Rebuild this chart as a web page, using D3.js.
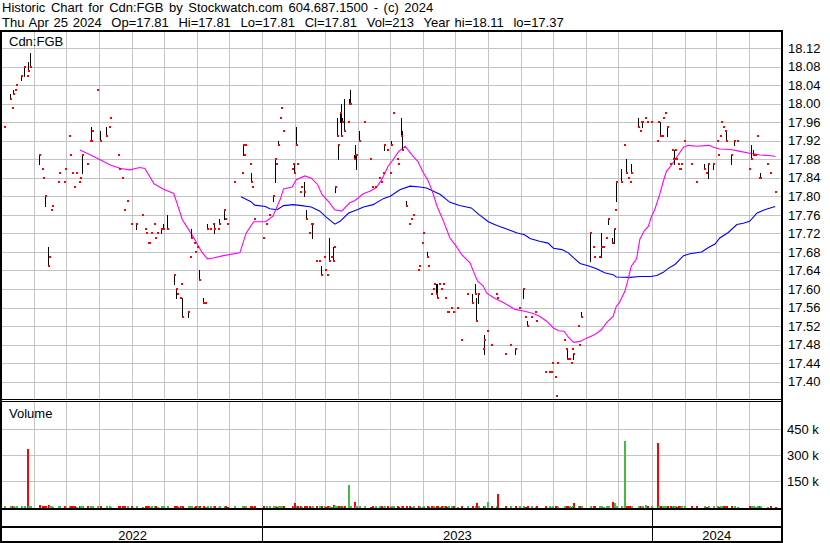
<!DOCTYPE html>
<html><head><meta charset="utf-8">
<script src="https://cdn.jsdelivr.net/npm/d3@7"></script>
<style>
html,body{margin:0;padding:0;background:#fff;}
svg{display:block;}
</style></head><body>
<svg id="chart" width="830" height="543"></svg>
<script>
// ---------------- data ----------------
const headerLines = [
  "Historic Chart for Cdn:FGB by Stockwatch.com 604.687.1500 - (c) 2024",
  "Thu Apr 25 2024  Op=17.81  Hi=17.81  Lo=17.81  Cl=17.81  Vol=213  Year hi=18.11  lo=17.37"
];
const symbolLabel = "Cdn:FGB";
const volumeLabel = "Volume";
const priceTicks = [17.40,17.44,17.48,17.52,17.56,17.60,17.64,17.68,17.72,17.76,17.80,17.84,17.88,17.92,17.96,18.00,18.04,18.08,18.12];
const volumeTicks = [150000,300000,450000];
const volumeTickLabels = ["150 k","300 k","450 k"];
const yearLabels = ["2022","2023","2024"];
const startDate = "2022-05-02"; // first day of the time axis; days below count from here

// closes: [day, close]
const closes = [
[3,17.95],[8,18.01],[10,17.99],[11,18.02],[13,18.03],[14,18.04],[19,18.06],[22,18.08],[24,18.06],[25,18.07],
[27,18.08],[36,17.89],[38,17.86],[39,17.84],[41,17.80],[44,17.65],[45,17.67],[47,17.77],[48,17.78],[53,17.83],
[54,17.85],[59,17.83],[60,17.86],[64,17.93],[65,17.89],[67,17.85],[68,17.82],[70,17.85],[73,17.83],[74,17.84],
[76,17.89],[81,17.87],[83,17.92],[84,17.92],[85,17.94],[90,18.03],[93,17.92],[98,17.93],[101,17.95],[102,17.97],
[110,17.89],[111,17.86],[113,17.84],[115,17.77],[118,17.79],[122,17.74],[127,17.74],[132,17.76],[135,17.73],[136,17.72],
[138,17.70],[139,17.70],[141,17.72],[143,17.74],[144,17.71],[146,17.72],[150,17.73],[152,17.73],[156,17.73],[162,17.63],
[164,17.60],[165,17.59],[168,17.58],[169,17.61],[170,17.54],[175,17.55],[177,17.67],[178,17.71],[181,17.70],[182,17.68],
[184,17.69],[186,17.62],[189,17.57],[191,17.57],[193,17.73],[196,17.73],[199,17.74],[200,17.73],[203,17.73],[204,17.74],
[209,17.77],[210,17.75],[212,17.74],[218,17.83],[226,17.85],[227,17.91],[228,17.89],[229,17.91],[233,17.87],[234,17.83],
[235,17.82],[237,17.75],[246,17.71],[248,17.74],[251,17.76],[255,17.80],[257,17.88],[258,17.87],[260,17.91],[262,17.97],
[263,17.99],[264,17.94],[273,17.86],[274,17.87],[275,17.85],[277,17.91],[278,17.87],[280,17.81],[281,17.82],[284,17.81],
[286,17.75],[289,17.72],[291,17.74],[292,17.74],[295,17.66],[298,17.66],[300,17.63],[303,17.67],[304,17.64],[306,17.63],
[308,17.66],[309,17.67],[311,17.66],[312,17.69],[313,17.82],[315,17.93],[316,17.91],[318,17.98],[319,17.93],[320,17.96],
[322,17.94],[325,17.96],[326,18.00],[327,18.00],[331,17.88],[332,17.89],[333,17.89],[336,17.92],[340,17.96],[346,17.88],
[348,17.82],[351,17.82],[354,17.84],[356,17.83],[358,17.85],[359,17.91],[362,17.90],[365,17.85],[366,17.91],[368,17.98],
[371,17.88],[372,17.87],[375,17.93],[376,17.90],[380,17.78],[383,17.74],[384,17.75],[386,17.76],[391,17.64],[392,17.65],
[395,17.70],[396,17.72],[399,17.67],[400,17.65],[403,17.59],[405,17.60],[406,17.61],[408,17.59],[409,17.58],[411,17.61],
[413,17.60],[414,17.61],[416,17.58],[418,17.55],[419,17.55],[422,17.56],[424,17.55],[428,17.56],[431,17.49],[437,17.59],
[442,17.57],[444,17.59],[445,17.53],[447,17.59],[452,17.47],[453,17.49],[456,17.51],[459,17.48],[464,17.59],[465,17.58],
[473,17.46],[477,17.48],[482,17.47],[486,17.56],[489,17.60],[491,17.54],[493,17.52],[497,17.54],[501,17.55],[502,17.53],
[510,17.42],[514,17.42],[516,17.42],[517,17.44],[519,17.41],[520,17.37],[521,17.44],[528,17.49],[530,17.47],[531,17.45],
[533,17.45],[534,17.44],[535,17.47],[536,17.46],[541,17.52],[542,17.48],[544,17.54],[552,17.72],[555,17.69],[556,17.67],
[561,17.67],[563,17.69],[564,17.69],[567,17.71],[569,17.75],[573,17.70],[575,17.73],[576,17.77],[577,17.83],[581,17.83],
[584,17.91],[586,17.85],[588,17.84],[590,17.83],[591,17.85],[597,17.95],[599,17.94],[600,17.96],[601,17.96],[604,17.97],
[606,17.96],[609,17.96],[615,17.92],[616,17.96],[618,17.93],[620,17.93],[621,17.97],[623,17.98],[624,17.95],[627,17.87],
[629,17.90],[630,17.88],[631,17.88],[632,17.90],[633,17.88],[635,17.87],[636,17.86],[637,17.86],[638,17.87],[640,17.92],
[647,17.87],[652,17.83],[659,17.86],[661,17.85],[663,17.87],[668,17.87],[671,17.92],[672,17.89],[674,17.93],[675,17.96],
[677,17.95],[679,17.94],[680,17.92],[684,17.89],[687,17.92],[690,17.92],[701,17.86],[703,17.88],[705,17.89],[707,17.89],
[709,17.93],[711,17.84],[712,17.84],[718,17.87],[721,17.85],[726,17.81]
];

// ranges: [day, high, low]
const ranges = [
[8,18.02,18.01],[11,18.03,18.02],[19,18.06,18.05],[22,18.08,18.06],[25,18.09,18.07],[27,18.11,18.08],[36,17.89,17.87],[41,17.80,17.78],[44,17.69,17.65],[76,17.89,17.85],
[84,17.95,17.92],[93,17.94,17.92],[98,17.95,17.93],[127,17.74,17.73],[150,17.73,17.72],[152,17.74,17.73],[156,17.76,17.73],[162,17.63,17.61],[164,17.60,17.58],[170,17.58,17.54],
[175,17.55,17.54],[178,17.73,17.71],[186,17.64,17.62],[189,17.58,17.57],[193,17.74,17.73],[200,17.74,17.72],[204,17.75,17.74],[209,17.77,17.75],[227,17.91,17.89],[234,17.85,17.83],
[255,17.80,17.79],[257,17.88,17.83],[260,17.92,17.91],[275,17.87,17.85],[277,17.95,17.91],[284,17.83,17.80],[286,17.77,17.75],[292,17.74,17.71],[300,17.65,17.63],[308,17.71,17.66],
[311,17.69,17.66],[313,17.82,17.81],[315,17.97,17.93],[316,17.91,17.88],[318,17.98,17.96],[319,18.00,17.93],[320,17.97,17.96],[322,18.01,17.94],[326,18.01,18.00],[327,18.03,18.00],
[331,17.89,17.88],[332,17.91,17.88],[333,17.89,17.86],[336,17.94,17.92],[359,17.91,17.90],[366,17.92,17.91],[375,17.97,17.93],[376,17.94,17.90],[380,17.79,17.78],[399,17.68,17.67],
[408,17.61,17.59],[409,17.61,17.58],[442,17.59,17.57],[444,17.61,17.59],[445,17.58,17.53],[447,17.59,17.57],[453,17.50,17.46],[482,17.47,17.46],[489,17.60,17.58],[493,17.53,17.52],
[531,17.47,17.45],[536,17.46,17.45],[544,17.55,17.54],[552,17.72,17.66],[563,17.72,17.67],[569,17.75,17.74],[573,17.71,17.70],[575,17.73,17.70],[577,17.83,17.79],[581,17.86,17.83],
[586,17.88,17.85],[591,17.87,17.85],[597,17.97,17.95],[601,17.96,17.95],[618,17.96,17.93],[624,17.95,17.93],[631,17.90,17.87],[659,17.87,17.86],[663,17.87,17.84],[668,17.87,17.86],
[680,17.94,17.92],[684,17.89,17.87],[687,17.92,17.91],[703,17.91,17.88],[705,17.90,17.89],[712,17.85,17.84]
];

// volumes: [day, thousands of shares]
const volumes = [
[3,8],[8,10],[10,6],[11,8],[13,5],[14,6],[19,8],[22,10],[24,334],[25,8],
[27,10],[36,17],[38,6],[39,8],[41,9],[44,12],[45,6],[47,8],[48,5],[53,6],
[54,8],[59,6],[60,5],[64,9],[65,6],[67,8],[68,6],[70,5],[73,6],[74,8],
[76,9],[81,6],[83,8],[84,10],[85,6],[90,8],[93,9],[98,8],[101,6],[102,5],
[110,6],[111,8],[113,6],[115,9],[118,6],[122,8],[127,6],[132,5],[135,9],[136,6],
[138,8],[139,5],[141,6],[143,8],[144,6],[146,5],[150,8],[152,6],[156,9],[162,8],
[164,6],[165,5],[168,6],[169,8],[170,9],[175,6],[177,8],[178,6],[181,5],[182,6],
[184,8],[186,6],[189,9],[191,5],[193,6],[196,8],[199,6],[200,8],[203,5],[204,6],
[209,8],[210,6],[212,5],[218,8],[226,6],[227,9],[228,5],[229,6],[233,8],[234,6],
[235,5],[237,8],[246,6],[248,8],[251,6],[255,9],[257,8],[258,5],[260,10],[262,6],
[263,8],[264,6],[273,8],[274,6],[275,28],[277,9],[278,6],[280,8],[281,5],[284,6],
[286,8],[289,6],[291,5],[292,8],[295,6],[298,8],[300,9],[303,6],[304,5],[306,8],
[308,6],[309,5],[311,14],[312,6],[313,8],[315,9],[316,6],[318,8],[319,6],[320,5],
[322,8],[325,130],[326,6],[327,9],[331,34],[332,8],[333,6],[336,8],[340,6],[346,5],
[348,8],[351,6],[354,8],[356,6],[358,5],[359,8],[362,6],[365,5],[366,8],[368,6],
[371,6],[372,5],[375,8],[376,6],[380,8],[383,6],[384,5],[386,6],[391,8],[392,6],
[395,5],[396,8],[399,6],[400,5],[403,8],[405,6],[406,5],[408,8],[409,6],[411,5],
[413,6],[414,8],[416,6],[418,5],[419,6],[422,8],[424,6],[428,5],[431,10],[437,8],
[442,6],[444,8],[445,28],[447,6],[452,8],[453,9],[456,34],[459,6],[464,8],[465,79],
[473,6],[477,8],[482,6],[486,8],[489,6],[491,5],[493,8],[497,6],[501,5],[502,8],
[510,6],[514,8],[516,5],[517,6],[519,8],[520,6],[521,5],[528,8],[530,6],[531,9],
[533,6],[534,5],[535,8],[536,23],[541,6],[542,8],[544,9],[552,10],[555,6],[556,8],
[561,6],[563,9],[564,5],[567,8],[569,6],[573,34],[575,23],[576,8],[577,9],[581,8],
[584,380],[586,9],[588,6],[590,8],[591,6],[597,9],[599,6],[600,8],[601,6],[604,14],
[606,6],[609,8],[615,370],[616,8],[618,9],[620,6],[621,8],[623,10],[624,6],[627,8],
[629,6],[630,5],[631,8],[632,6],[633,5],[635,8],[636,6],[637,5],[638,6],[640,8],
[647,6],[652,8],[659,6],[661,5],[663,8],[668,6],[671,8],[672,5],[674,6],[675,8],
[677,6],[679,10],[680,6],[684,8],[687,6],[690,5],[701,8],[703,6],[705,8],[707,5],
[709,6],[711,8],[712,6],[718,5],[721,6],[726,1]
];

// moving averages: [day, value]
const maShort = [
[73,17.900],[85,17.887],[92,17.879],[101,17.868],[111,17.860],[120,17.857],[129,17.862],[134,17.860],[142.5,17.827],[151,17.816],
[161,17.806],[164,17.786],[169,17.750],[172,17.739],[179,17.714],[187,17.681],[192.5,17.665],[198,17.667],[207.5,17.672],[223,17.678],
[229,17.721],[236,17.745],[247,17.745],[254,17.757],[261,17.794],[264,17.816],[272,17.820],[276,17.836],[284,17.844],[290,17.839],
[296,17.825],[300,17.804],[306,17.789],[312,17.771],[318.5,17.768],[326,17.786],[331,17.791],[339,17.806],[345,17.811],[351,17.819],
[356,17.836],[362,17.865],[367,17.880],[372,17.897],[378,17.908],[381,17.899],[386,17.885],[390,17.875],[395,17.851],[399,17.836],
[403,17.814],[408,17.778],[414,17.746],[420,17.710],[426,17.692],[431,17.674],[439,17.656],[442,17.638],[446,17.617],[451,17.607],
[454.5,17.591],[461,17.581],[470,17.571],[476,17.563],[481,17.556],[490,17.552],[498,17.547],[504,17.541],[511,17.530],[517,17.516],
[522,17.510],[527,17.509],[531,17.496],[536,17.485],[542,17.487],[548,17.494],[556,17.502],[562,17.512],[567,17.528],[573,17.541],
[576,17.563],[579,17.571],[584,17.595],[587,17.620],[590,17.649],[595,17.665],[598,17.707],[602,17.725],[606,17.735],[609,17.757],
[612,17.771],[617,17.807],[620,17.832],[623,17.854],[628,17.868],[633,17.886],[639,17.906],[643.5,17.910],[651,17.908],[663,17.910],
[667,17.906],[673,17.902],[683,17.901],[692,17.897],[701,17.893],[711,17.889],[720,17.888],[725,17.886]
];
const maLong = [
[224,17.799],[233,17.789],[237,17.781],[247,17.778],[251,17.773],[258,17.771],[264,17.780],[273,17.782],[281,17.780],[290,17.777],
[298,17.768],[304,17.755],[312,17.740],[317,17.746],[325,17.764],[333,17.771],[339,17.777],[348,17.782],[357.5,17.795],[364,17.800],
[373,17.814],[382.5,17.822],[392,17.820],[398,17.818],[411,17.804],[420,17.787],[429,17.780],[440,17.775],[447,17.761],[456,17.745],
[464,17.737],[475,17.728],[483,17.721],[490,17.717],[495,17.709],[504,17.703],[512,17.699],[517,17.688],[525,17.685],[531,17.678],
[536,17.667],[542,17.655],[551,17.649],[558,17.643],[565,17.635],[573,17.631],[576,17.626],[589,17.625],[598,17.627],[608,17.627],
[614,17.629],[620,17.636],[625,17.645],[631,17.653],[639,17.672],[645,17.676],[656,17.680],[662,17.689],[668.5,17.697],[673,17.710],
[681,17.722],[689,17.739],[695,17.742],[701,17.746],[708,17.764],[714,17.770],[718,17.773],[725,17.778]
];

// ---------------- drawing ----------------
const FONT = "'Liberation Sans', Arial, sans-serif";
const svg = d3.select("#chart");
const plotL = 2, plotR = 781;
const priceTop = 32, priceBot = 399;
const volTop = 402, volBot = 508;
const t0 = new Date(startDate + "T00:00:00Z");
const toDate = d => new Date(t0.getTime() + d * 864e5);
const tEnd = toDate(730.4);

const x = d3.scaleUtc().domain([t0, tEnd]).range([plotL, plotR]);
const y = d3.scaleLinear().domain([17.40, 18.12]).range([381.7, 48]);
const yv = d3.scaleLinear().domain([0, 600000]).range([507.5, 402.7]);

svg.append("rect").attr("width", 830).attr("height", 543).attr("fill", "#fff");

// header
svg.append("g").selectAll("text").data(headerLines).join("text")
  .attr("x", 2).attr("y", (d, i) => 12 + i * 15)
  .attr("xml:space", "preserve").style("white-space", "pre")
  .attr("word-spacing", (d, i) => i === 0 ? 2 : 1.2)
  .attr("font-family", FONT).attr("font-size", 13)
  .attr("fill", "#000").text(d => d);

const grid = svg.append("g").attr("stroke", "#c4c4c4").attr("stroke-width", 1).attr("shape-rendering", "crispEdges");
const months = d3.utcMonth.range(d3.utcMonth.ceil(t0), tEnd).filter(m => x(m) < plotR - 3);
// price panel grid
grid.selectAll("line.ph").data(priceTicks).join("line").attr("class", "ph")
  .attr("x1", plotL).attr("x2", plotR).attr("y1", d => Math.round(y(d)) + 0.5).attr("y2", d => Math.round(y(d)) + 0.5);
grid.selectAll("line.pv").data(months).join("line").attr("class", "pv")
  .attr("x1", d => Math.round(x(d)) + 0.5).attr("x2", d => Math.round(x(d)) + 0.5).attr("y1", priceTop).attr("y2", priceBot);
// volume panel grid
grid.selectAll("line.vh").data(volumeTicks).join("line").attr("class", "vh")
  .attr("x1", plotL).attr("x2", plotR).attr("y1", d => Math.round(yv(d)) + 0.5).attr("y2", d => Math.round(yv(d)) + 0.5);
grid.selectAll("line.vv").data(months).join("line").attr("class", "vv")
  .attr("x1", d => Math.round(x(d)) + 0.5).attr("x2", d => Math.round(x(d)) + 0.5).attr("y1", volTop).attr("y2", volBot);

// clip for price panel
svg.append("clipPath").attr("id", "pclip").append("rect")
  .attr("x", plotL).attr("y", priceTop).attr("width", plotR - plotL).attr("height", priceBot - priceTop);
const pg = svg.append("g").attr("clip-path", "url(#pclip)");

// moving averages
const line = d3.line().x(d => x(toDate(d[0]))).y(d => y(d[1]));
pg.append("path").datum(maLong).attr("d", line).attr("fill", "none").attr("stroke", "#0000ff").attr("stroke-width", 1.1);
pg.append("path").datum(maShort).attr("d", line).attr("fill", "none").attr("stroke", "#ff00ff").attr("stroke-width", 1.1);

// high-low bars
pg.append("g").attr("shape-rendering", "crispEdges").selectAll("rect").data(ranges).join("rect")
  .attr("x", d => Math.round(x(toDate(d[0]))) - 1).attr("width", 1)
  .attr("y", d => Math.round(y(d[1]))).attr("height", d => Math.max(1, Math.round(y(d[2])) - Math.round(y(d[1])) + 1))
  .attr("fill", "#000");
// closes
pg.append("g").attr("shape-rendering", "crispEdges").selectAll("rect").data(closes).join("rect")
  .attr("x", d => Math.round(x(toDate(d[0]))) - 1).attr("width", 2)
  .attr("y", d => Math.round(y(d[1])) - 1).attr("height", 2)
  .attr("fill", "#ff0000");

// volume bars, coloured by close vs previous close
const closeDays = closes.map(c => c[0]);
function isUp(day) {
  const i = closeDays.indexOf(day);
  if (i <= 0) return true;
  return closes[i][1] >= closes[i - 1][1];
}
svg.append("g").attr("shape-rendering", "crispEdges").selectAll("rect").data(volumes).join("rect")
  .attr("x", d => Math.round(x(toDate(d[0]))) - 1).attr("width", 2)
  .attr("y", d => yv(d[1] * 1000)).attr("height", d => Math.max(0.8, volBot + 0.5 - yv(d[1] * 1000)))
  .attr("fill", d => isUp(d[0]) ? "#44bb44" : "#ff0000");

// labels in panels
svg.append("text").attr("x", 9).attr("y", 46).attr("font-family", FONT).attr("font-size", 13).text(symbolLabel);
svg.append("text").attr("x", 9).attr("y", 418).attr("font-family", FONT).attr("font-size", 13).text(volumeLabel);

// right axes
const pAxis = svg.append("g").attr("transform", `translate(${plotR + 1},0)`)
  .call(d3.axisRight(y).tickValues(priceTicks).tickSize(0).tickPadding(6).tickFormat(d => d.toFixed(2)));
const vAxis = svg.append("g").attr("transform", `translate(${plotR + 1},0)`)
  .call(d3.axisRight(yv).tickValues(volumeTicks).tickSize(0).tickPadding(5).tickFormat((d, i) => volumeTickLabels[i]));
[pAxis, vAxis].forEach(a => {
  a.select(".domain").remove();
  a.selectAll("text").attr("font-family", FONT).attr("font-size", 13).attr("fill", "#000");
});

// frame lines
const frame = svg.append("g").attr("fill", "#000").attr("shape-rendering", "crispEdges");
frame.append("rect").attr("x", 0).attr("y", 30).attr("width", 2).attr("height", 513);
frame.append("rect").attr("x", 0).attr("y", 30).attr("width", plotR + 2).attr("height", 2);
frame.append("rect").attr("x", plotR).attr("y", 30).attr("width", 2).attr("height", 513);
frame.append("rect").attr("x", 0).attr("y", 399).attr("width", plotR + 2).attr("height", 1);
frame.append("rect").attr("x", 0).attr("y", 401).attr("width", plotR + 2).attr("height", 1);
frame.append("rect").attr("x", 0).attr("y", 508).attr("width", plotR + 2).attr("height", 2);
frame.append("rect").attr("x", 0).attr("y", 526).attr("width", plotR + 2).attr("height", 1.5);
frame.append("rect").attr("x", 0).attr("y", 541).attr("width", plotR + 2).attr("height", 2);

// x axis: years
const yearStarts = yearLabels.map(yl => new Date(yl + "-01-01T00:00:00Z"));
const bounds = yearStarts.map((d, i) => i === 0 ? t0 : d).concat([tEnd]);
frame.selectAll("rect.sep").data(yearStarts.slice(1)).join("rect").attr("class", "sep")
  .attr("x", d => Math.round(x(d)) - 0.5).attr("width", 1).attr("y", 509).attr("height", 33);
const xAxis = svg.append("g").attr("transform", "translate(0,527)")
  .call(d3.axisBottom(x).tickValues(yearLabels.map((yl, i) => new Date((bounds[i].getTime() + bounds[i + 1].getTime()) / 2)))
    .tickSize(0).tickPadding(0).tickFormat((d, i) => yearLabels[i]));
xAxis.select(".domain").remove();
xAxis.selectAll("text").attr("font-family", FONT).attr("font-size", 13).attr("fill", "#000").attr("dy", null).attr("y", 13);
</script>
</body></html>
